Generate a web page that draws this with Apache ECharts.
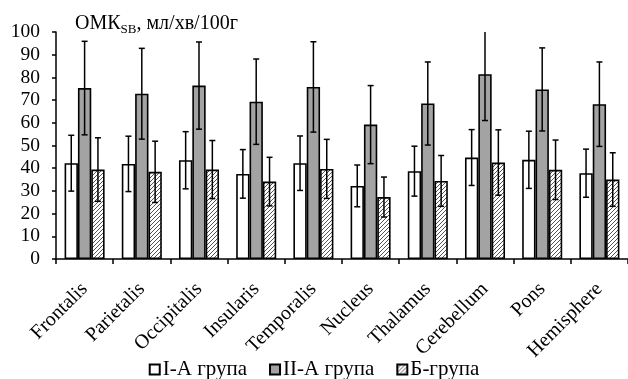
<!DOCTYPE html>
<html>
<head>
<meta charset="utf-8">
<script src="https://cdn.jsdelivr.net/npm/echarts@6/dist/echarts.min.js"></script>
<style>
html,body{margin:0;padding:0;background:#fff;}
#chart{width:628px;height:379px;}
</style>
</head>
<body>
<div id="chart"></div>
<script>
const categories = ['Frontalis','Parietalis','Occipitalis','Insularis','Temporalis','Nucleus','Thalamus','Cerebellum','Pons','Hemisphere'];
const seriesNames = ['I-A група','II-A група','Б-група'];
const meanA1 = [42.2, 41.9, 43.5, 37.5, 42.2, 32.2, 38.7, 44.7, 43.7, 37.8];
const sdA1   = [12.3, 12.2, 12.6, 10.7, 12.0, 9.2, 11.0, 12.3, 12.6, 10.6];
const meanA2 = [75.3, 72.8, 76.4, 69.3, 75.8, 59.2, 68.5, 81.4, 74.7, 68.2];
const sdA2   = [20.6, 20.0, 19.2, 18.8, 19.9, 17.2, 18.3, 20.4, 18.3, 18.6];
const meanB  = [39.4, 38.4, 39.4, 34.1, 39.7, 27.3, 34.4, 42.5, 39.3, 35.0];
const sdB    = [14.0, 13.5, 12.8, 10.7, 13.0, 8.8, 11.2, 14.4, 13.1, 11.8];
const yTicks = [0,10,20,30,40,50,60,70,80,90,100];

const FONT = 'Liberation Serif';

// hatch pattern
const pc = document.createElement('canvas');
pc.width = 4; pc.height = 4;
const g = pc.getContext('2d');
g.fillStyle = '#ffffff'; g.fillRect(0,0,4,4);
g.strokeStyle = '#555'; g.lineWidth = 1;
g.beginPath();
g.moveTo(0,4); g.lineTo(4,0);
g.moveTo(-1,1); g.lineTo(1,-1);
g.moveTo(3,5); g.lineTo(5,3);
g.stroke();
const hatch = {image: pc, repeat: 'repeat'};

const chart = echarts.init(document.getElementById('chart'), null, {renderer:'canvas'});

const means = [meanA1, meanA2, meanB];
const sds = [sdA1, sdA2, sdB];
const fills = ['#ffffff', '#a3a3a3', hatch];

const barSeries = seriesNames.map((n,i)=>({
  name: n,
  type: 'bar',
  data: means[i],
  barGap: '0%',
  barCategoryGap: '30%',
  itemStyle: {color: fills[i], borderColor: '#000', borderWidth: 1.6},
  z: 2
}));

const errSeries = [0,1,2].map(k=>({
  type: 'custom',
  name: 'err'+k,
  clip: true,
  z: 5,
  data: means[k].map((m,i)=>[i, m, sds[k][i]]),
  renderItem: function(params, api){
    const idx = api.value(0), m = api.value(1), s = api.value(2);
    const band = api.size([1,0])[0];
    const bw = band*0.7/3;
    const c = api.coord([idx, m]);
    const x = c[0] + (k-1)*bw;
    const top = api.coord([idx, m+s])[1];
    const bot = api.coord([idx, m-s])[1];
    const hw = 3;
    const st = {stroke:'#000', lineWidth:1.5};
    return {type:'group', children:[
      {type:'line', shape:{x1:x,y1:top,x2:x,y2:bot}, style:st},
      {type:'line', shape:{x1:x-hw,y1:top,x2:x+hw,y2:top}, style:st},
      {type:'line', shape:{x1:x-hw,y1:bot,x2:x+hw,y2:bot}, style:st}
    ]};
  }
}));

chart.setOption({
  animation: false,
  backgroundColor: '#fff',
  textStyle: {fontFamily: FONT},
  title: {
    text: '{a|ОМК}{b|SB}{a|, мл/хв/100г}',
    left: 70, top: 7,
    textStyle: {
      fontWeight: 'normal',
      rich: {
        a: {fontFamily: FONT, fontSize: 20, fontWeight: 'normal', color: '#000', lineHeight: 24},
        b: {fontFamily: FONT, fontSize: 13, fontWeight: 'normal', color: '#000', verticalAlign: 'bottom', lineHeight: 16}
      }
    }
  },
  legend: {
    data: seriesNames,
    left: 'center', top: 354,
    itemWidth: 10, itemHeight: 10, itemGap: 22,
    textStyle: {fontFamily: FONT, fontSize: 21, color: '#000', padding:[0,0,0,-2]},
    icon: 'rect'
  },
  grid: {left: 56, top: 32, width: 574, height: 227, containLabel: false},
  xAxis: {
    type: 'category',
    data: categories,
    axisLine: {lineStyle: {color: '#000', width: 1.5}},
    axisTick: {show: true, length: 5, lineStyle: {color: '#000', width: 1.5}},
    axisLabel: {rotate: 45, fontFamily: FONT, fontSize: 20, color: '#000', margin: 27, interval: 0}
  },
  yAxis: {
    type: 'value', min: 0, max: 100, interval: 10,
    splitLine: {show: false},
    axisLine: {show: true, lineStyle: {color: '#000', width: 1.5}},
    axisTick: {show: true, length: 4, lineStyle: {color: '#000', width: 1.5}},
    axisLabel: {fontFamily: FONT, fontSize: 19.5, color: '#000', margin: 16,
      formatter: v => yTicks.includes(v) ? String(v) : ''}
  },
  series: barSeries.concat(errSeries)
});
</script>
</body>
</html>
